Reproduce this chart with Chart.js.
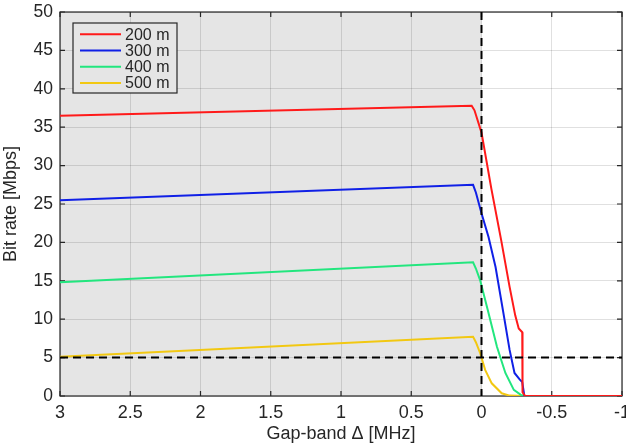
<!DOCTYPE html>
<html>
<head>
  <title>Bit rate vs gap-band</title>
  <script src="https://cdn.jsdelivr.net/npm/chart.js"></script>
  <style>
    html, body { margin: 0; padding: 0; background: #ffffff; }
    #wrap { width: 626px; height: 445px; }
  </style>
</head>
<body>
<div id="wrap"><canvas id="rateChart" width="626" height="445"></canvas></div>

<script>
  // series
  const seriesLabels = ['200 m', '300 m', '400 m', '500 m'];
  const seriesColors = ['#ff1a1a', '#1020e6', '#22e67e', '#f2c811'];

  const red_x = [3, 0.07, 0.05, 0.0, -0.07, -0.14, -0.2, -0.24, -0.265, -0.29, -0.292, -0.31, -1];
  const red_y = [36.5, 37.8, 37.2, 34.3, 27.0, 20.3, 14.2, 10.5, 8.8, 8.3, 0.5, 0, 0];

  const blue_x = [3, 0.06, 0.04, 0.0, -0.05, -0.1, -0.156, -0.2, -0.235, -0.27, -0.29, -0.305, -1];
  const blue_y = [25.5, 27.5, 26.5, 23.8, 20.7, 16.8, 10.8, 6.0, 3.0, 2.2, 1.8, 0, 0];

  const green_x = [3, 0.06, 0.04, 0.01, -0.05, -0.11, -0.17, -0.23, -0.28, -0.31, -1];
  const green_y = [14.8, 17.4, 16.6, 15.1, 10.8, 6.4, 3.0, 0.8, 0.15, 0, 0];

  const yellow_x = [3, 0.06, 0.04, 0.01, -0.026, -0.073, -0.144, -0.2, -0.3, -1];
  const yellow_y = [5.1, 7.7, 7.0, 5.6, 3.4, 1.65, 0.35, 0.05, 0, 0];

  const shadeFrom = 3, shadeTo = 0;   // gray band
  const vLine = 0, hLine = 5;         // dashed guides

  const xs = [red_x, blue_x, green_x, yellow_x];
  const ys = [red_y, blue_y, green_y, yellow_y];

  const FONT = '"Liberation Sans", Arial, Helvetica, sans-serif';
  const INK = '#262626';

  const datasets = seriesLabels.map((lab, i) => ({
    label: lab,
    data: xs[i].map((x, k) => ({ x: x, y: ys[i][k] })),
    borderColor: seriesColors[i],
    borderWidth: 2,
    pointRadius: 0,
    tension: 0,
    fill: false
  }));

  const decor = {
    id: 'decor',
    beforeDraw(chart) {
      const { ctx, chartArea: a, scales: { x, y } } = chart;
      ctx.save();
      ctx.fillStyle = '#ffffff';
      ctx.fillRect(0, 0, chart.width, chart.height);
      const x1 = x.getPixelForValue(shadeFrom), x2 = x.getPixelForValue(shadeTo);
      ctx.fillStyle = '#e5e5e5';
      ctx.fillRect(Math.min(x1, x2), a.top, Math.abs(x2 - x1), a.bottom - a.top);
      ctx.restore();
    },
    beforeDatasetsDraw(chart) {
      // frame and inward ticks, under the lines
      const { ctx, chartArea: a, scales: { x, y } } = chart;
      ctx.save();
      ctx.strokeStyle = INK;
      ctx.lineWidth = 1.2;
      ctx.strokeRect(a.left, a.top, a.right - a.left, a.bottom - a.top);
      const t = 5;
      ctx.beginPath();
      x.ticks.forEach(tk => {
        const p = x.getPixelForValue(tk.value);
        ctx.moveTo(p, a.bottom); ctx.lineTo(p, a.bottom - t);
        ctx.moveTo(p, a.top); ctx.lineTo(p, a.top + t);
      });
      y.ticks.forEach(tk => {
        const p = y.getPixelForValue(tk.value);
        ctx.moveTo(a.left, p); ctx.lineTo(a.left + t, p);
        ctx.moveTo(a.right, p); ctx.lineTo(a.right - t, p);
      });
      ctx.stroke();
      ctx.restore();
    },
    afterDatasetsDraw(chart) {
      const { ctx, chartArea: a, scales: { x, y } } = chart;
      ctx.save();
      ctx.strokeStyle = '#000000';
      ctx.lineWidth = 2;
      ctx.setLineDash([8, 5]);
      const px = x.getPixelForValue(vLine);
      ctx.beginPath(); ctx.moveTo(px, a.top); ctx.lineTo(px, a.bottom); ctx.stroke();
      const py = y.getPixelForValue(hLine);
      ctx.beginPath(); ctx.moveTo(a.left, py); ctx.lineTo(a.right, py); ctx.stroke();
      ctx.setLineDash([]);

      // legend box
      const lx = 73, ly = 23, lw = 104, lh = 70;
      ctx.fillStyle = '#e5e5e5';
      ctx.fillRect(lx, ly, lw, lh);
      ctx.strokeStyle = INK;
      ctx.lineWidth = 1.2;
      ctx.strokeRect(lx, ly, lw, lh);
      ctx.font = '16px ' + FONT;
      ctx.textBaseline = 'middle';
      seriesLabels.forEach((lab, i) => {
        const ry = ly + 11.3 + i * 16.2;
        ctx.strokeStyle = seriesColors[i];
        ctx.lineWidth = 2;
        ctx.beginPath(); ctx.moveTo(lx + 7, ry); ctx.lineTo(lx + 48, ry); ctx.stroke();
        ctx.fillStyle = INK;
        ctx.fillText(lab, lx + 52, ry + 1);
      });
      ctx.restore();
    }
  };

  const fmt = v => String(Number(v.toFixed(2)));

  new Chart(document.getElementById('rateChart'), {
    type: 'line',
    data: { datasets: datasets },
    options: {
      responsive: false,
      animation: false,
      events: [],
      layout: { padding: { top: 12, right: 4, left: 0, bottom: 0 } },
      plugins: { legend: { display: false }, tooltip: { enabled: false } },
      scales: {
        x: {
          type: 'linear',
          reverse: true,
          min: -1,
          max: 3,
          ticks: { stepSize: 0.5, color: INK, font: { family: FONT, size: 18 }, padding: 6, maxRotation: 0, callback: fmt },
          grid: { color: 'rgba(0,0,0,0.12)', drawTicks: false },
          border: { display: false },
          title: { display: true, text: 'Gap-band Δ [MHz]', color: INK, font: { family: FONT, size: 18 }, padding: { top: 0, bottom: 0 } },
          afterFit(s) { s.height = 49; s.paddingLeft = 0; s.paddingRight = 0; }
        },
        y: {
          min: 0,
          max: 50,
          ticks: { stepSize: 5, color: INK, font: { family: FONT, size: 17.5 }, padding: 7, callback: fmt },
          grid: { color: 'rgba(0,0,0,0.12)', drawTicks: false },
          border: { display: false },
          title: { display: true, text: 'Bit rate [Mbps]', color: INK, font: { family: FONT, size: 18 }, padding: { top: 0, bottom: 2 } },
          afterFit(s) { s.width = 60; s.paddingTop = 0; s.paddingBottom = 0; }
        }
      }
    },
    plugins: [decor]
  });
</script>
</body>
</html>
